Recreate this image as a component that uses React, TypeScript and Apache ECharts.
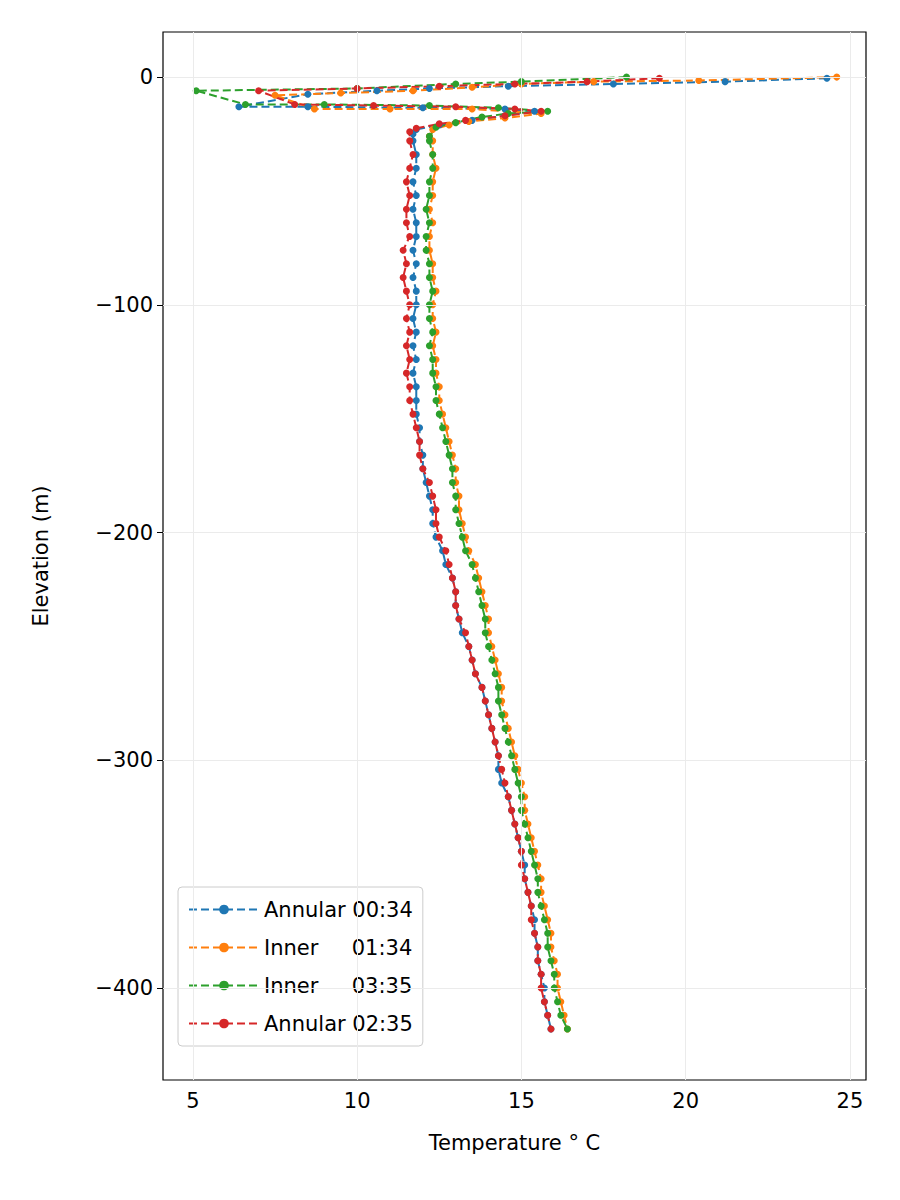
import React, { useRef, useEffect } from 'react';
import * as echarts from 'echarts';

// elevations of the profile below the surface zone (m)
const profileElev: number[] = [];
for (let e = -28; e >= -418; e -= 6) profileElev.push(e);

// near-surface points [temperature, elevation]
const blueTop = [[24.3, -0.5], [21.2, -2], [17.8, -3], [14.6, -4], [12.2, -5], [10.6, -6], [8.5, -7.5], [6.4, -13], [8.5, -13], [12.0, -13.5], [14.5, -14], [15.4, -15], [14.5, -17], [13.5, -19], [12.5, -21], [11.8, -23], [11.7, -25]];
const orangeTop = [[24.6, 0], [20.4, -1.5], [17.2, -2], [15.0, -3], [13.5, -4.5], [11.7, -6], [9.5, -7], [7.5, -8], [8.7, -14], [11.0, -14], [13.5, -14], [15.6, -16], [14.5, -18], [13.4, -19.5], [12.8, -21], [12.3, -23], [12.2, -26]];
const greenTop = [[18.2, 0], [15.0, -2], [13.0, -3], [10.0, -5], [5.1, -6], [6.6, -12], [9.0, -12], [12.2, -12.5], [14.3, -13.5], [15.8, -15], [14.6, -16], [13.8, -17.5], [13.0, -20], [12.4, -22], [12.2, -26]];
const redTop = [[19.2, -0.5], [17.0, -2], [14.8, -3], [12.5, -4], [10.0, -5], [7.0, -6], [8.1, -12], [10.5, -12.5], [13.0, -13], [14.8, -14], [15.6, -15], [14.5, -17], [13.3, -19], [12.5, -20.5], [11.8, -22.5], [11.6, -24]];

// profile temperatures (°C) at profileElev
const blueT = [
  11.7, 11.8, 11.8, 11.7, 11.8, 11.7, 11.8, 11.8, 11.7, 11.8,
  11.7, 11.8, 11.8, 11.7, 11.8, 11.7, 11.8, 11.7, 11.8, 11.8,
  11.8, 11.9, 11.9, 12.0, 12.0, 12.1, 12.2, 12.3, 12.3, 12.4,
  12.6, 12.7, 12.9, 13.0, 13.0, 13.1, 13.2, 13.4, 13.5, 13.6,
  13.8, 13.9, 14.0, 14.1, 14.2, 14.3, 14.3, 14.4, 14.6, 14.7,
  14.8, 14.9, 15.0, 15.1, 15.1, 15.2, 15.3, 15.4, 15.4, 15.5,
  15.5, 15.6, 15.7, 15.7, 15.8, 15.9,
];
const orangeT = [
  12.3, 12.3, 12.4, 12.3, 12.3, 12.2, 12.3, 12.2, 12.2, 12.3,
  12.3, 12.4, 12.3, 12.3, 12.4, 12.3, 12.4, 12.4, 12.5, 12.5,
  12.6, 12.7, 12.8, 12.9, 13.0, 13.0, 13.1, 13.1, 13.2, 13.3,
  13.4, 13.6, 13.7, 13.8, 13.9, 14.0, 14.0, 14.1, 14.2, 14.3,
  14.4, 14.4, 14.5, 14.6, 14.7, 14.8, 14.9, 15.0, 15.1, 15.1,
  15.2, 15.3, 15.4, 15.5, 15.6, 15.6, 15.7, 15.8, 15.9, 15.9,
  16.0, 16.1, 16.1, 16.2, 16.3, 16.4,
];
const greenT = [
  12.2, 12.3, 12.3, 12.2, 12.2, 12.1, 12.2, 12.1, 12.1, 12.2,
  12.2, 12.3, 12.2, 12.2, 12.3, 12.2, 12.3, 12.3, 12.4, 12.4,
  12.5, 12.6, 12.7, 12.8, 12.9, 12.9, 13.0, 13.0, 13.1, 13.2,
  13.3, 13.5, 13.6, 13.7, 13.8, 13.9, 13.9, 14.0, 14.1, 14.2,
  14.3, 14.3, 14.4, 14.5, 14.6, 14.7, 14.8, 14.9, 15.0, 15.0,
  15.1, 15.2, 15.3, 15.4, 15.5, 15.5, 15.6, 15.7, 15.8, 15.8,
  15.9, 16.0, 16.0, 16.1, 16.2, 16.4,
];
const redT = [
  11.6, 11.7, 11.6, 11.5, 11.6, 11.5, 11.5, 11.6, 11.4, 11.5,
  11.4, 11.5, 11.6, 11.5, 11.6, 11.5, 11.6, 11.5, 11.6, 11.6,
  11.7, 11.8, 11.9, 11.9, 12.0, 12.2, 12.3, 12.4, 12.4, 12.5,
  12.7, 12.8, 12.9, 13.0, 13.0, 13.1, 13.3, 13.4, 13.5, 13.6,
  13.8, 13.9, 14.0, 14.1, 14.2, 14.3, 14.4, 14.5, 14.6, 14.7,
  14.8, 14.9, 15.0, 15.0, 15.1, 15.2, 15.3, 15.3, 15.4, 15.5,
  15.5, 15.6, 15.6, 15.7, 15.8, 15.9,
];

const seriesNames = ['Annular 00:34', 'Inner     01:34', 'Inner     03:35', 'Annular 02:35'];
const colors = ['#1f77b4', '#ff7f0e', '#2ca02c', '#d62728'];
const xTicks = [5, 10, 15, 20, 25];
const yTicks = [0, -100, -200, -300, -400];

const build = (top: number[][], temps: number[]) =>
  top.concat(temps.map((t, i) => [t, profileElev[i]]));

const App: React.FC = () => {
  const chartRef = useRef<HTMLDivElement>(null);

  useEffect(() => {
    if (!chartRef.current) return;
    const chart = echarts.init(chartRef.current, undefined, { renderer: 'svg' });
    const font = 'DejaVu Sans';
    const datasets = [build(blueTop, blueT), build(orangeTop, orangeT), build(greenTop, greenT), build(redTop, redT)];

    const option: echarts.EChartsOption = {
      animation: false,
      textStyle: { fontFamily: font },
      grid: { left: 163, right: 34, top: 32, bottom: 120, show: true, borderColor: '#000', borderWidth: 1.2, backgroundColor: 'transparent' },
      legend: {
        orient: 'vertical',
        left: 178,
        top: 887,
        itemWidth: 70,
        itemHeight: 12,
        itemGap: 17,
        padding: [12, 10, 12, 10],
        borderColor: '#ccc',
        borderWidth: 1,
        borderRadius: 4,
        backgroundColor: 'rgba(255,255,255,0.8)',
        textStyle: { fontSize: 21, fontFamily: font, color: '#000' },
        data: seriesNames,
      },
      xAxis: {
        type: 'value',
        min: 4.09,
        max: 25.49,
        name: 'Temperature ° C',
        nameLocation: 'middle',
        nameGap: 52,
        nameTextStyle: { fontSize: 21, color: '#000' },
        axisLine: { show: false },
        axisTick: { show: true, length: 6, lineStyle: { color: '#000' }, customValues: xTicks },
        axisLabel: { fontSize: 21, color: '#000', margin: 10, customValues: xTicks },
        splitLine: { show: false },
      },
      yAxis: {
        type: 'value',
        min: -440.4,
        max: 19.8,
        name: 'Elevation (m)',
        nameLocation: 'middle',
        nameGap: 112,
        nameTextStyle: { fontSize: 21, color: '#000' },
        axisLine: { show: false },
        axisTick: { show: true, length: 6, lineStyle: { color: '#000' }, customValues: yTicks },
        axisLabel: { fontSize: 21, color: '#000', margin: 10, customValues: yTicks, formatter: (v: number) => String(v).replace('-', '\u2212') },
        splitLine: { show: false },
      },
      series: [
        {
          type: 'line',
          data: [],
          silent: true,
          markLine: {
            symbol: 'none',
            silent: true,
            label: { show: false },
            lineStyle: { color: '#ebebeb', type: 'solid', width: 1 },
            data: [...xTicks.map((x) => ({ xAxis: x })), ...yTicks.map((y) => ({ yAxis: y }))],
          },
        },
        ...datasets.map((d, i) => ({
          name: seriesNames[i],
          type: 'line' as const,
          data: d,
          color: colors[i],
          symbol: 'circle',
          symbolSize: 7,
          lineStyle: { type: 'dashed' as const, width: 2, color: colors[i] },
          itemStyle: { color: colors[i] },
        })),
      ],
    };
    chart.setOption(option);
    return () => chart.dispose();
  }, []);

  return <div ref={chartRef} style={{ width: 900, height: 1200, margin: -8 }} />;
};

export default App;
